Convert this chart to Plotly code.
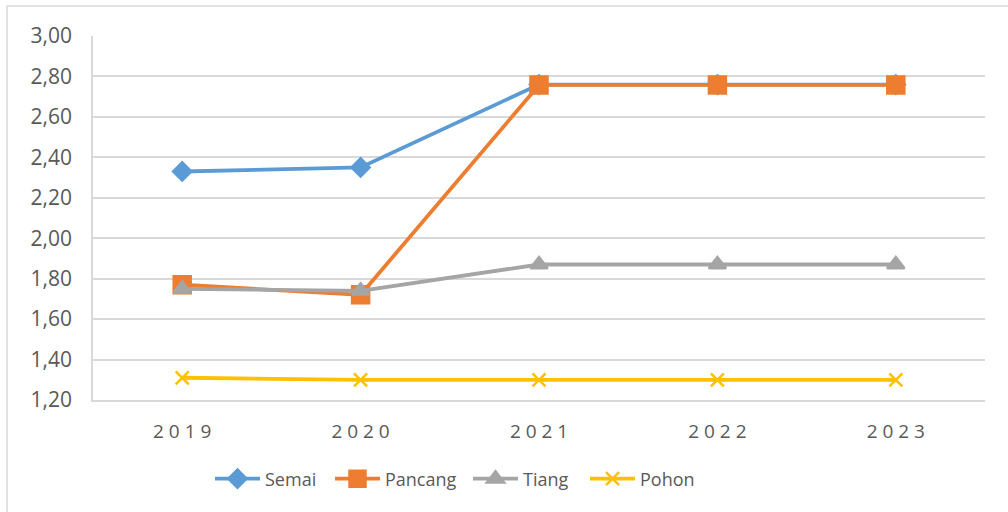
import plotly.graph_objects as go

years = ["2019", "2020", "2021", "2022", "2023"]
year_labels = ["2 0 1 9", "2 0 2 0", "2 0 2 1", "2 0 2 2", "2 0 2 3"]
semai = [2.33, 2.35, 2.76, 2.76, 2.76]
pancang = [1.77, 1.72, 2.758, 2.758, 2.758]
tiang = [1.75, 1.74, 1.87, 1.87, 1.87]
pohon = [1.31, 1.30, 1.30, 1.30, 1.30]
y_ticks = [1.2, 1.4, 1.6, 1.8, 2.0, 2.2, 2.4, 2.6, 2.8, 3.0]
y_tick_labels = ["1,20", "1,40", "1,60", "1,80", "2,00", "2,20", "2,40", "2,60", "2,80", "3,00"]

series = [
    ("Semai", semai, "#5B9BD5", "diamond", 14, "legend"),
    ("Pancang", pancang, "#ED7D31", "square", 17, "legend2"),
    ("Tiang", tiang, "#A5A5A5", "triangle-up", 15, "legend3"),
    ("Pohon", pohon, "#FFC000", "x-thin", 13, "legend4"),
]

fig = go.Figure()
for name, vals, color, sym, size, lg in series:
    fig.add_trace(go.Scatter(
        x=years, y=vals, name=name, mode="lines+markers",
        line=dict(color=color, width=3.8),
        marker=dict(symbol=sym, size=size, color=color,
                    line=dict(color=color, width=2.5)),
        legend=lg,
    ))

W, H = 1008, 512
L, R, T, B = 93, 985, 36, 400

legend_x = [210, 330, 468, 585]

def make_legend(px):
    return dict(
        orientation="h", xref="container", yref="container",
        x=px / W, xanchor="left",
        y=1 - 479 / H, yanchor="middle",
        font=dict(size=18, color="#595959"),
        bgcolor="rgba(0,0,0,0)",
        itemwidth=45,
    )

fig.update_layout(
    width=W, height=H,
    margin=dict(l=L, r=W - R, t=T, b=H - B),
    paper_bgcolor="white", plot_bgcolor="white",
    font=dict(family="Open Sans, Liberation Sans, sans-serif", color="#595959", size=15),
    showlegend=True,
    legend=make_legend(legend_x[0]),
    legend2=make_legend(legend_x[1]),
    legend3=make_legend(legend_x[2]),
    legend4=make_legend(legend_x[3]),
    xaxis=dict(
        type="category", categoryorder="array", categoryarray=years,
        tickvals=years, ticktext=year_labels,
        range=[-0.5, 4.5], showgrid=False, zeroline=False,
        showline=True, linecolor="#D9D9D9", linewidth=1.5,
        ticks="", ticklabelstandoff=13,
        tickfont=dict(size=19, color="#595959"),
    ),
    yaxis=dict(
        range=[1.2, 3.0], tickvals=y_ticks, ticktext=y_tick_labels,
        showgrid=True, gridcolor="#D9D9D9", gridwidth=1.5,
        zeroline=False, showline=True, linecolor="#D9D9D9", linewidth=1.5,
        ticks="", ticklabelstandoff=15,
        tickfont=dict(size=21, color="#595959"),
    ),
    shapes=[
        dict(type="rect", xref="paper", yref="paper",
             x0=(7 - L) / (R - L), x1=(1012 - L) / (R - L),
             y0=(B - 516) / (B - T), y1=(B - 6) / (B - T),
             line=dict(color="#D9D9D9", width=1.5), fillcolor="rgba(0,0,0,0)", layer="below"),
    ],
)

fig.write_html("out.html")
